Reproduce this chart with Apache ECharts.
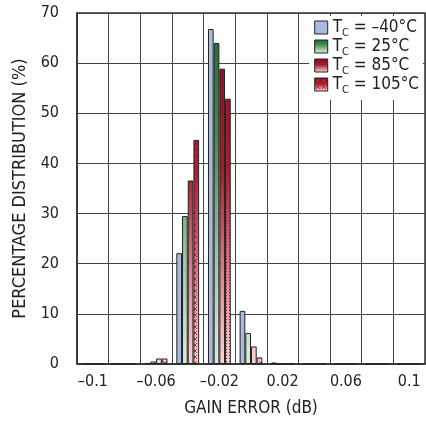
<!DOCTYPE html>
<html>
<head>
<meta charset="utf-8">
<script src="https://cdn.jsdelivr.net/npm/echarts@6/dist/echarts.min.js"></script>
<style>
    html, body { margin: 0; padding: 0; background: #fff; }
    #chart { width: 426px; height: 423px; }
</style>
</head>
<body>
<div id="chart"></div>
<script>
    // bins of gain error (dB), every other one gets a label
    var categories = ['-0.1', '-0.08', '-0.06', '-0.04', '-0.02', '0', '0.02', '0.04', '0.06', '0.08', '0.1'];
    var seriesNames = ['–40°C', '25°C', '85°C', '105°C'];
    // percentage distribution per temperature
    var tcMinus40 = [0, 0, 0.2, 22.1, 66.8, 10.6, 0.3, 0, 0, 0, 0];
    var tc25 = [0, 0, 0.5, 29.5, 64.0, 6.2, 0, 0, 0, 0, 0];
    var tc85 = [0, 0, 1.1, 36.6, 58.9, 3.5, 0, 0, 0, 0, 0];
    var tc105 = [0, 0, 1.1, 44.7, 52.9, 1.3, 0, 0, 0, 0, 0];
    var yTicks = [0, 10, 20, 30, 40, 50, 60, 70];

    var font = "'Liberation Sans Narrow', 'DejaVu Sans Condensed', sans-serif";

    var blueFill = '#a9badd';
    var greenStops = [
        {offset: 0, color: '#1d6a2e'},
        {offset: 0.35, color: '#3f8c4b'},
        {offset: 0.7, color: '#9fc6a2'},
        {offset: 1, color: '#dcebdc'}
    ];
    var redStops = [
        {offset: 0, color: '#860c22'},
        {offset: 0.45, color: '#a11f30'},
        {offset: 0.75, color: '#d9878e'},
        {offset: 1, color: '#f6d6d6'}
    ];

    // gradients run over the whole plot height, so tall bars get dark tops
    function plotGradient(stops) {
        return new echarts.graphic.LinearGradient(0, 13, 0, 364, stops, true);
    }
    function swatchGradient(stops) {
        return new echarts.graphic.LinearGradient(0, 0, 0, 1, stops);
    }

    // red gradient with little x marks, used as a repeating fill
    function hatchCanvas(height, y0, y1) {
        var c = document.createElement('canvas');
        c.width = 6;
        c.height = height;
        var ctx = c.getContext('2d');
        var g = ctx.createLinearGradient(0, y0, 0, y1);
        for (var i = 0; i < redStops.length; i++) {
            g.addColorStop(redStops[i].offset, redStops[i].color);
        }
        ctx.fillStyle = g;
        ctx.fillRect(0, 0, 6, height);
        ctx.strokeStyle = '#cc1f3c';
        ctx.lineWidth = 1;
        for (var y = 0; y < height; y += 6) {
            ctx.beginPath();
            ctx.moveTo(1, y + 1);
            ctx.lineTo(5, y + 5);
            ctx.moveTo(5, y + 1);
            ctx.lineTo(1, y + 5);
            ctx.stroke();
        }
        return c;
    }
    var hatchFill = {image: hatchCanvas(423, 13, 364), repeat: 'repeat'};
    var hatchSwatch = {image: hatchCanvas(13, 0, 13), repeat: 'repeat'};

    function barSeries(name, data, color) {
        return {
            name: name,
            type: 'bar',
            data: data,
            barGap: 0,
            barCategoryGap: '28%',
            itemStyle: {
                color: color,
                borderColor: '#222',
                borderWidth: 1
            }
        };
    }

    var myChart = echarts.init(document.getElementById('chart'));
    myChart.setOption({
        animation: false,
        textStyle: {fontFamily: font},
        grid: {
            left: 77,
            right: 1,
            top: 13,
            bottom: 59,
            show: true,
            borderColor: '#333',
            borderWidth: 1.5
        },
        legend: {
            orient: 'vertical',
            right: 3,
            top: 16,
            backgroundColor: '#fff',
            padding: [3, 4, 4, 5],
            itemWidth: 13,
            itemHeight: 13,
            itemGap: -1,
            icon: 'rect',
            data: [
                {name: seriesNames[0], itemStyle: {color: blueFill, borderColor: '#222', borderWidth: 1}},
                {name: seriesNames[1], itemStyle: {color: swatchGradient(greenStops), borderColor: '#222', borderWidth: 1}},
                {name: seriesNames[2], itemStyle: {color: swatchGradient(redStops), borderColor: '#222', borderWidth: 1}},
                {name: seriesNames[3], itemStyle: {color: hatchSwatch, borderColor: '#222', borderWidth: 1}}
            ],
            formatter: function (name) {
                return '{t|T}{s|C}{t| = ' + name + '}';
            },
            textStyle: {
                fontFamily: font,
                rich: {
                    t: {fontSize: 17, color: '#222', fontFamily: font, lineHeight: 17},
                    s: {fontSize: 11, color: '#222', fontFamily: font, verticalAlign: 'bottom', lineHeight: 17, padding: [0, 0, -3, 0]}
                }
            }
        },
        xAxis: {
            type: 'category',
            data: categories,
            name: 'GAIN ERROR (dB)',
            nameLocation: 'middle',
            nameGap: 36,
            nameTextStyle: {fontSize: 17, color: '#222', fontFamily: font},
            axisLine: {lineStyle: {color: '#333', width: 1.5}},
            axisTick: {show: false},
            axisLabel: {
                interval: 1,
                margin: 10,
                fontSize: 16,
                color: '#222',
                formatter: function (v) { return v.replace('-', '–'); }
            },
            splitLine: {show: true, interval: 0, lineStyle: {color: '#444', width: 1}}
        },
        yAxis: {
            type: 'value',
            min: yTicks[0],
            max: yTicks[yTicks.length - 1],
            interval: 10,
            name: 'PERCENTAGE DISTRIBUTION (%)',
            nameLocation: 'middle',
            nameGap: 46,
            nameTextStyle: {fontSize: 18, color: '#222', fontFamily: font},
            axisLine: {show: true, lineStyle: {color: '#333', width: 1.5}},
            axisTick: {show: false},
            axisLabel: {margin: 18, fontSize: 16, color: '#222'},
            splitLine: {show: true, lineStyle: {color: '#444', width: 1}}
        },
        series: [
            barSeries(seriesNames[0], tcMinus40, blueFill),
            barSeries(seriesNames[1], tc25, plotGradient(greenStops)),
            barSeries(seriesNames[2], tc85, plotGradient(redStops)),
            barSeries(seriesNames[3], tc105, hatchFill)
        ]
    });
</script>
</body>
</html>
